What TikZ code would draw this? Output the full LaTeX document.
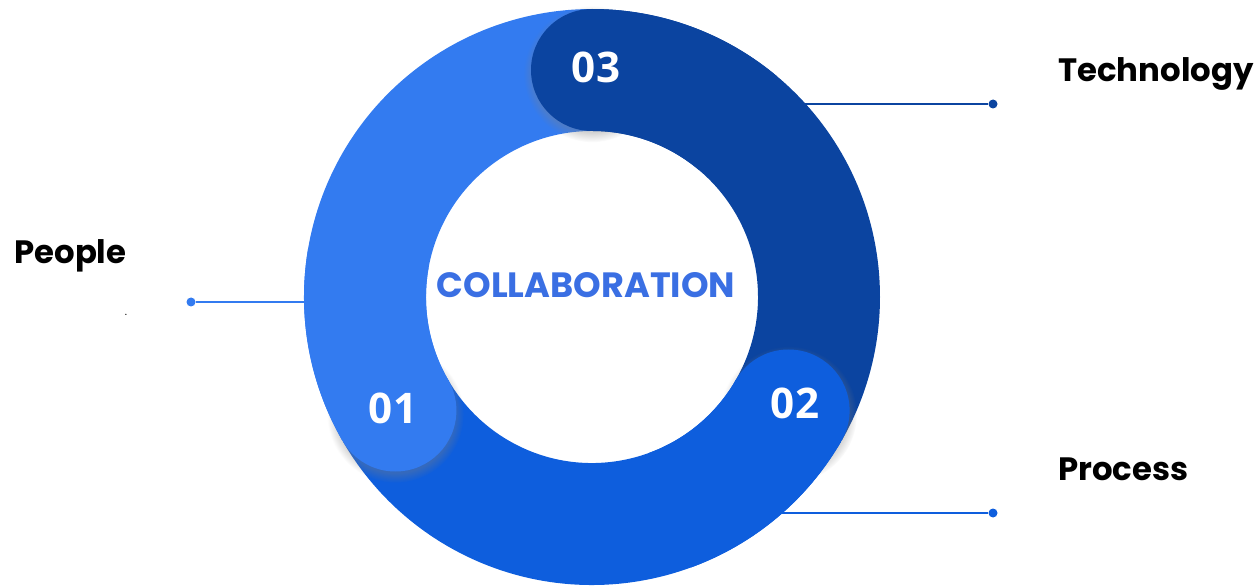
\documentclass[tikz,border=0pt]{standalone}
\usepackage{fontspec}
\setmainfont{Poppins}
\newfontfamily\numfont{Open Sans}
\usetikzlibrary{shadows,calc}
\definecolor{segA}{HTML}{337BF0}
\definecolor{segB}{HTML}{0E5EDD}
\definecolor{segC}{HTML}{0B44A0}
\definecolor{hubtext}{HTML}{3A6FE3}
\tikzset{
  seg/.style={line width=2.44cm},
  capdisk/.style={circular drop shadow={shadow xshift=0pt, shadow yshift=-2pt, shadow scale=1.12, opacity=0.35}},
  numtext/.style={text=white, font=\numfont\bfseries\fontsize{24}{28}\selectfont},
  tagtext/.style={font=\bfseries\fontsize{18.4}{22}\selectfont, anchor=base west, inner sep=0pt},
  lead/.style={line width=1.1pt},
  leaddot/.style={circle, inner sep=0pt, minimum size=0.18cm}
}
\begin{document}
\begin{tikzpicture}[x=0.02cm,y=0.02cm]
\useasboundingbox (0,0) rectangle (1257,585);
\coordinate (hub) at (592,288);
\coordinate (pring) at ($(hub)+(180:227)$);
\node[leaddot, fill=segA] (pdot) at (191,283) {};
\node[leaddot, fill=segC] (tdot) at (993,481) {};
\node[leaddot, fill=segB] (rdot) at (993,72) {};
\draw[lead, segA] (pdot) -- (pdot -| pring);
\draw[lead, segC] (tdot) -- (tdot -| hub);
\draw[lead, segB] (rdot) -- (rdot -| hub);
\draw[seg, segA] ($(hub)+(210:227)$) arc[start angle=210, end angle=90, radius=227];
\draw[seg, segB] ($(hub)+(330:227)$) arc[start angle=330, end angle=210, radius=227];
\draw[seg, segC] ($(hub)+(90:227)$) arc[start angle=90, end angle=-30, radius=227];
\fill[segC, capdisk] ($(hub)+(90:227)$) circle[radius=61];
\draw[seg, segC] ($(hub)+(90:227)$) arc[start angle=90, end angle=50, radius=227];
\fill[segB, capdisk] ($(hub)+(-30:227)$) circle[radius=61];
\draw[seg, segB] ($(hub)+(-30:227)$) arc[start angle=-30, end angle=-70, radius=227];
\fill[segA, capdisk] ($(hub)+(210:227)$) circle[radius=61];
\draw[seg, segA] ($(hub)+(210:227)$) arc[start angle=210, end angle=170, radius=227];
\node[numtext] (n03) at (596,518) {03};
\node[numtext] (n02) at (795,182) {02};
\node[numtext] (n01) at (393,177) {01};
\node[font=\bfseries\fontsize{20}{24}\selectfont, text=hubtext] (hubtag) at (586,300) {COLLABORATION};
\node[tagtext] (people) at (14,321) {People};
\node[font=\fontsize{6}{7}\selectfont, inner sep=0pt] (speck) at (126,270) {.};
\node[tagtext] (tech) at (1058,503) {Technology};
\node[tagtext] (proc) at (1058,105) {Process};
\end{tikzpicture}
\end{document}
